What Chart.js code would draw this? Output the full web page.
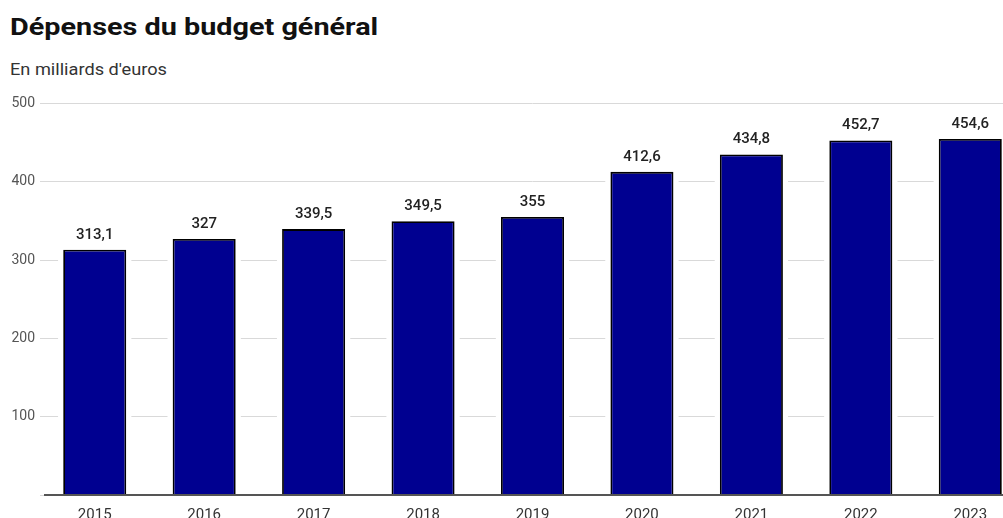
<!DOCTYPE html>
<html lang="fr">
<head>
  <meta charset="UTF-8">
  <title>Dépenses du budget général</title>
  <style>
    html, body { margin: 0; padding: 0; background: #fff; overflow: hidden; width: 1003px; height: 518px; }
    body { position: relative; font-family: Roboto, sans-serif; }
    h1 { position: absolute; left: 10px; top: 12px; margin: 0; font-size: 24px; line-height: 30px; font-weight: 700; color: #111;
         transform: scaleX(1.2); transform-origin: left top; white-space: nowrap; }
    .sub { position: absolute; left: 10px; top: 59px; margin: 0; font-size: 17px; line-height: 20px; color: #333;
           transform: scaleX(1.07); transform-origin: left top; white-space: nowrap; }
    .chart { position: absolute; left: 0; top: 90px; width: 1030px; height: 440px; }
  </style>
</head>
<body>
  <h1>Dépenses du budget général</h1>
  <p class="sub">En milliards d'euros</p>
  <div class="chart">
    <canvas id="chart"></canvas>
  </div>
  <script src="https://cdn.jsdelivr.net/npm/chart.js@4/dist/chart.umd.min.js"></script>
  <script>
    const years = ['2015', '2016', '2017', '2018', '2019', '2020', '2021', '2022', '2023']
    const depenses = [313.1, 327, 339.5, 349.5, 355, 412.6, 434.8, 452.7, 454.6]
    const yTicks = [0, 100, 200, 300, 400, 500]

    const fmt = (v) => String(v).replace('.', ',')

    // valeurs au-dessus des barres
    const valueLabels = {
      id: 'valueLabels',
      afterDatasetsDraw(chart) {
        const ctx = chart.ctx
        const meta = chart.getDatasetMeta(1)
        ctx.save()
        ctx.font = '500 15px Roboto'
        ctx.fillStyle = '#222'
        ctx.textAlign = 'center'
        ctx.textBaseline = 'alphabetic'
        meta.data.forEach((bar, i) => {
          ctx.fillText(fmt(depenses[i]), bar.x, bar.y - 11)
        })
        ctx.restore()
      }
    }

    // ligne de base
    const baseLine = {
      id: 'baseLine',
      afterDatasetsDraw(chart) {
        const { ctx, chartArea } = chart
        const y = chart.scales.y.getPixelForValue(0)
        ctx.save()
        ctx.strokeStyle = '#555'
        ctx.lineWidth = 2
        ctx.beginPath()
        ctx.moveTo(chartArea.left + 4, y)
        ctx.lineTo(chartArea.right, y)
        ctx.stroke()
        ctx.restore()
      }
    }

    new Chart(document.querySelector('#chart'), {
      type: 'bar',
      data: {
        labels: years,
        datasets: [
          {
            // masque blanc qui coupe la grille autour des barres
            data: depenses,
            backgroundColor: '#fff',
            borderWidth: 0,
            barPercentage: 0.67,
            categoryPercentage: 1,
            grouped: false,
            order: 2
          },
          {
            data: depenses,
            backgroundColor: '#000090',
            borderColor: '#000',
            borderWidth: 1.8,
            barPercentage: 0.576,
            categoryPercentage: 1,
            grouped: false,
            order: 1
          }
        ]
      },
      plugins: [valueLabels, baseLine],
      options: {
        responsive: true,
        maintainAspectRatio: false,
        animation: false,
        layout: { padding: { top: 12, right: 5 } },
        plugins: {
          legend: { display: false },
          tooltip: { enabled: false }
        },
        scales: {
          x: {
            grid: { display: false },
            border: { display: false },
            ticks: { color: '#333', font: { family: 'Roboto', size: 15 }, padding: 3 },
            afterFit(scale) { scale.height = 35 }
          },
          y: {
            min: 0,
            max: 500,
            afterBuildTicks(scale) { scale.ticks = yTicks.map((v) => ({ value: v })) },
            grid: { color: '#d9d9d9', lineWidth: 1, drawTicks: false },
            border: { display: false },
            ticks: {
              color: '#555',
              font: { family: 'Roboto', size: 14 },
              padding: 5,
              callback: (v) => v === 0 ? '' : v
            },
            afterFit(scale) { scale.width = 40 }
          }
        }
      }
    })
  </script>
</body>
</html>
